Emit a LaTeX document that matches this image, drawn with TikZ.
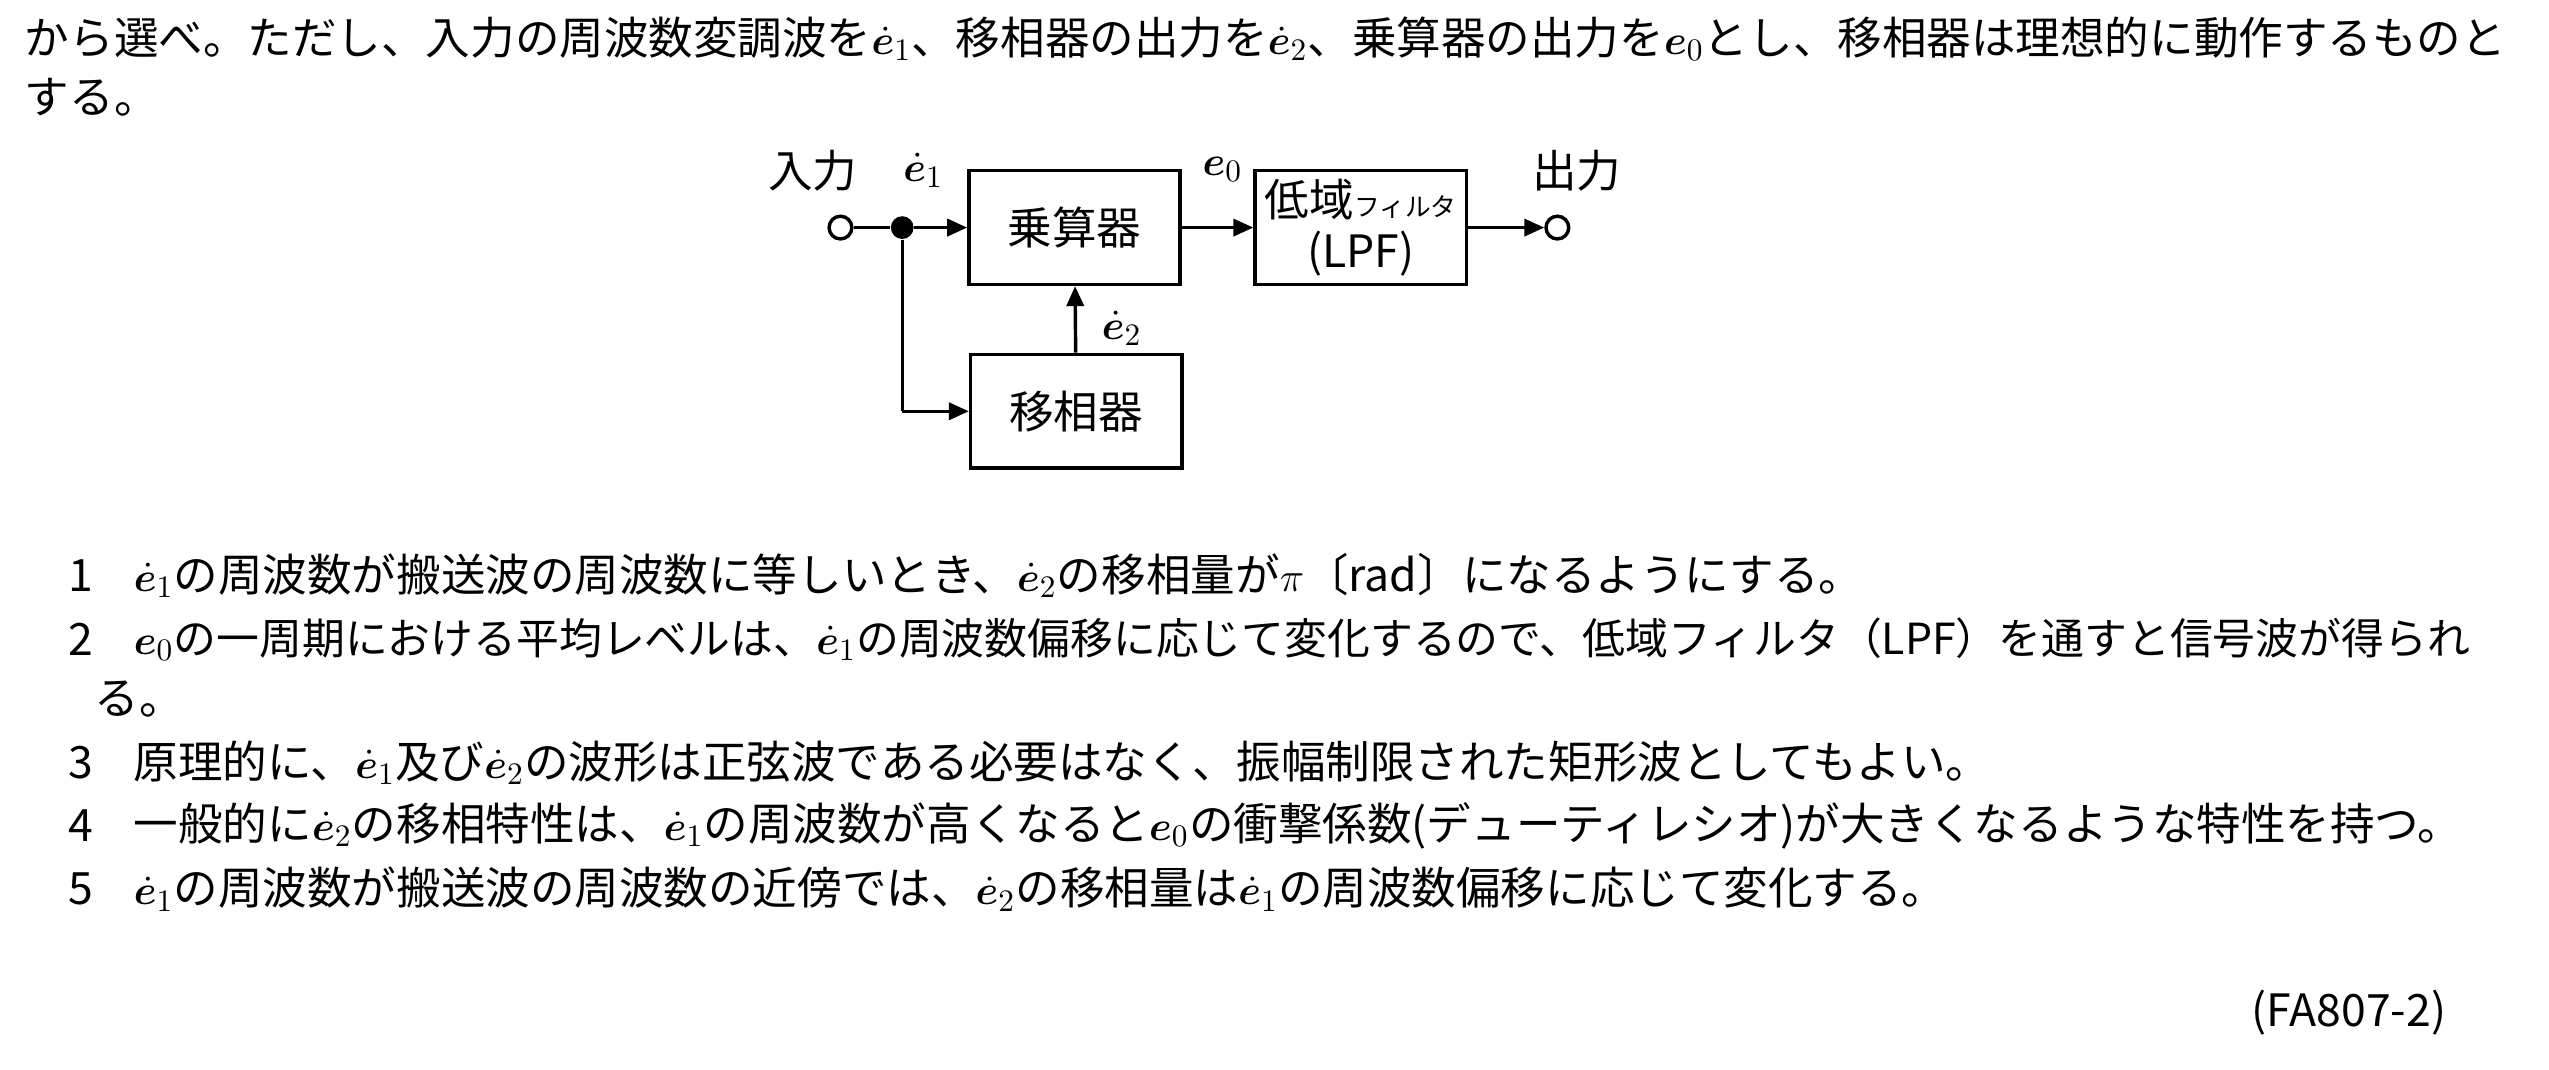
\documentclass[tikz,border=0pt]{standalone}
\usepackage{fontspec}
\usepackage{bm}
\setmainfont{Noto Sans CJK JP}
\usetikzlibrary{positioning,arrows.meta}
\newcommand\ed[1]{\ensuremath{\dot{\bm{e}}_{#1}}}
\newcommand\ez{\ensuremath{\bm{e}_{0}}}
\begin{document}
\begin{tikzpicture}[x=0.02cm, y=-0.02cm,
    txt/.style={anchor=west, inner sep=0pt, font=\fontsize{15.6pt}{18pt}\selectfont},
    lbl/.style={inner sep=0pt, font=\fontsize{15.6pt}{18pt}\selectfont},
    block/.style={draw, line width=1.2pt, minimum width=2.6cm, minimum height=1.4cm, inner sep=1pt, font=\fontsize{15.6pt}{18pt}\selectfont},
    term/.style={circle, draw, line width=1.2pt, inner sep=0pt, minimum size=0.28cm},
    flow/.style={line width=1.2pt, -{Triangle[length=7pt,width=6pt]}}]

    \useasboundingbox (0,0) rectangle (1568,658);

    % Question text
    \node[txt] (q1) at (15,24) {から選べ。ただし、入力の周波数変調波を\ed1、移相器の出力を\ed2、乗算器の出力を\ez とし、移相器は理想的に動作するものと};
    \node[txt] (q2) at (15,60) {する。};

    % Block diagram
    \node[term] (in) at (517,140) {};
    \node[circle, fill, inner sep=0pt, minimum size=0.28cm] (split) at (555,140) {};
    \node[block] (mul) at (661,140) {乗算器};
    \node[block] (ph) at (662,253) {移相器};
    \node[block, align=center] (lpf) at (837,140) {低域{\fontsize{9pt}{11pt}\selectfont フィルタ}\\(LPF)};
    \node[term] (out) at (958,140) {};
    \coordinate (corner) at (split |- ph);

    \draw[line width=1.2pt] (in) -- (split);
    \draw[flow] (split) -- (mul);
    \draw[line width=1.2pt] (split) -- (corner);
    \draw[flow] (corner) -- (ph);
    \draw[flow] (ph) -- (mul);
    \draw[flow] (mul) -- (lpf);
    \draw[flow] (lpf) -- (out);

    \node[lbl] (lin) at (500,105) {入力};
    \node[lbl] (le1) at (568,105) {\ed1};
    \node[lbl] (le0) at (752,104) {\ez};
    \node[lbl] (lout) at (970,105) {出力};
    \node[lbl] (le2) at (690,202) {\ed2};

    % Choices
    \foreach \n/\yy in {1/354, 2/393, 3/469, 4/508, 5/547}
        \node[txt] (num\n) at (42,\yy) {\n};
    \node[txt] (c1) at (82,354) {\ed1の周波数が搬送波の周波数に等しいとき、\ed2の移相量が$\pi$〔rad〕になるようにする。};
    \node[txt, font=\fontsize{15pt}{18pt}\selectfont] (c2) at (82,393) {\ez の一周期における平均レベルは、\ed1の周波数偏移に応じて変化するので、低域フィルタ（LPF）を通すと信号波が得られ};
    \node[txt] (c2b) at (58,430) {る。};
    \node[txt] (c3) at (82,469) {原理的に、\ed1及び\ed2の波形は正弦波である必要はなく、振幅制限された矩形波としてもよい。};
    \node[txt] (c4) at (82,508) {一般的に\ed2の移相特性は、\ed1の周波数が高くなると\ez の衝撃係数(デューティレシオ)が大きくなるような特性を持つ。};
    \node[txt] (c5) at (82,547) {\ed1の周波数が搬送波の周波数の近傍では、\ed2の移相量は\ed1の周波数偏移に応じて変化する。};

    \node[lbl, anchor=east] (code) at (1505,623) {(FA807-2)};
\end{tikzpicture}
\end{document}
